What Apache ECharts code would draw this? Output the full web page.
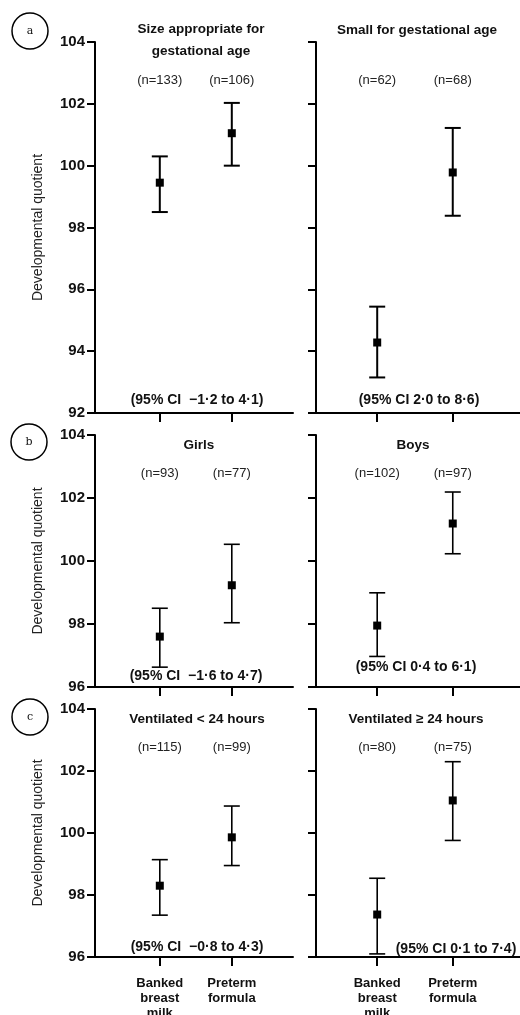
<!DOCTYPE html>
<html>
<head>
<meta charset="utf-8">
<script src="https://cdn.jsdelivr.net/npm/echarts@6/dist/echarts.min.js"></script>
<style>
html,body{margin:0;padding:0;background:#fff;}
#chart{width:520px;height:1015px;}
</style>
</head>
<body>
<div id="chart"></div>
<script>
// ---- data ----
const categories = ['Banked\nbreast\nmilk', 'Preterm\nformula'];
const panelLetters = ['a', 'b', 'c'];
const titles = ['Size appropriate for\ngestational age', 'Small for gestational age', 'Girls', 'Boys', 'Ventilated < 24 hours', 'Ventilated \u2265 24 hours'];
const nLabels = [['(n=133)', '(n=106)'], ['(n=62)', '(n=68)'], ['(n=93)', '(n=77)'], ['(n=102)', '(n=97)'], ['(n=115)', '(n=99)'], ['(n=80)', '(n=75)']];
const ciLabels = ['(95% CI  \u22121\u00b72 to 4\u00b71)', '(95% CI 2\u00b70 to 8\u00b76)', '(95% CI  \u22121\u00b76 to 4\u00b77)', '(95% CI 0\u00b74 to 6\u00b71)', '(95% CI  \u22120\u00b78 to 4\u00b73)', '(95% CI 0\u00b71 to 7\u00b74)'];
const means = [[99.45, 101.05], [94.28, 99.78], [97.6, 99.23], [97.95, 101.19], [98.3, 99.86], [97.37, 101.05]];
const lower = [[98.5, 100.0], [93.15, 98.38], [96.63, 98.04], [96.97, 100.23], [97.35, 98.95], [96.1, 99.76]];
const upper = [[100.3, 102.03], [95.44, 101.22], [98.5, 100.53], [98.99, 102.19], [99.14, 100.87], [98.54, 102.3]];
const yMins = [92, 96, 96];
const yMax = 104;
const yTickStep = 2;

// ---- layout ----
const FONT = '"Liberation Sans", Arial, Helvetica, sans-serif';
const gridTops = [42, 435, 709];
const gridHeights = [371, 252, 248];
const gridLefts = [95, 316];
const gridWidths = [198, 204];
const xMins = [-0.9, -0.81];
const xMaxs = [1.85, 1.89];
const titlePos = [[201, 29], [417, 30], [199, 445], [413, 445], [197, 719], [416, 719]];
const ciPos = [[197, 400], [419, 400], [196, 676], [416, 667], [197, 947], [456, 949]];
const circlePos = [[30, 31], [29, 442], [30, 717]];

const grids = [], xAxes = [], yAxes = [], series = [];
for (let i = 0; i < 6; i++) {
  const row = Math.floor(i / 2), col = i % 2;
  grids.push({left: gridLefts[col], top: gridTops[row], width: gridWidths[col], height: gridHeights[row],
    containLabel: false, outerBoundsMode: 'none'});
  xAxes.push({
    type: 'value', gridIndex: i, min: xMins[col], max: xMaxs[col],
    splitLine: {show: false},
    axisLine: {show: true, onZero: false, lineStyle: {color: '#000', width: 2}},
    axisTick: {show: true, customValues: [0, 1], length: 9, inside: false, lineStyle: {color: '#000', width: 2}},
    axisLabel: {show: row === 2, customValues: [0, 1], margin: 19, formatter: v => categories[Math.round(v)],
      fontFamily: FONT, fontWeight: 'bold', fontSize: 13, lineHeight: 15, color: '#111', verticalAlign: 'top'}
  });
  yAxes.push({
    type: 'value', gridIndex: i, min: yMins[row], max: yMax, interval: yTickStep,
    splitLine: {show: false},
    axisLine: {show: true, onZero: false, lineStyle: {color: '#000', width: 2}},
    axisTick: {show: true, length: 8, lineStyle: {color: '#000', width: 2}},
    axisLabel: {show: col === 0, margin: 10, fontFamily: FONT, fontWeight: 'bold', fontSize: 15, color: '#111'},
    name: col === 0 ? 'Developmental quotient' : '',
    nameLocation: 'middle', nameGap: 50,
    nameTextStyle: {fontFamily: FONT, fontSize: 14, color: '#222'}
  });
  const data = [0, 1].map(k => [k, means[i][k], lower[i][k], upper[i][k]]);
  const lw = row === 0 ? 2 : 1.6;
  series.push({
    type: 'custom', xAxisIndex: i, yAxisIndex: i, data: data,
    encode: {x: 0, y: 1},
    renderItem: (function (panel, lw) {
      return function (params, api) {
        const x = api.value(0);
        const pm = api.coord([x, api.value(1)]);
        const plo = api.coord([x, api.value(2)]);
        const phi = api.coord([x, api.value(3)]);
        const cap = 8, sq = 8;
        const st = {stroke: '#000', lineWidth: lw};
        return {type: 'group', children: [
          {type: 'line', shape: {x1: pm[0], y1: phi[1], x2: pm[0], y2: plo[1]}, style: st},
          {type: 'line', shape: {x1: pm[0] - cap, y1: phi[1], x2: pm[0] + cap, y2: phi[1]}, style: st},
          {type: 'line', shape: {x1: pm[0] - cap, y1: plo[1], x2: pm[0] + cap, y2: plo[1]}, style: st},
          {type: 'rect', shape: {x: pm[0] - sq / 2, y: pm[1] - sq / 2, width: sq, height: sq}, style: {fill: '#000'}},
          {type: 'text', x: pm[0], y: params.coordSys.y + 38, style: {text: nLabels[panel][x], fontFamily: FONT, fontSize: 13, fill: '#222', align: 'center', verticalAlign: 'middle'}}
        ]};
      };
    })(i, lw)
  });
}

const graphics = [];
for (let i = 0; i < 6; i++) {
  graphics.push({type: 'text', x: titlePos[i][0], y: titlePos[i][1] - 11,
    style: {text: titles[i], fontFamily: FONT, fontWeight: 'bold', fontSize: 13.5, lineHeight: 22, fill: '#111', align: 'center', verticalAlign: 'top'}});
  graphics.push({type: 'text', x: ciPos[i][0], y: ciPos[i][1],
    style: {text: ciLabels[i], fontFamily: FONT, fontWeight: 'bold', fontSize: 14, fill: '#111', align: 'center', verticalAlign: 'middle'}});
}
for (let r = 0; r < 3; r++) {
  graphics.push({type: 'circle', shape: {cx: circlePos[r][0], cy: circlePos[r][1], r: 18}, style: {fill: '#fff', stroke: '#000', lineWidth: 1.5}});
  graphics.push({type: 'text', x: circlePos[r][0], y: circlePos[r][1],
    style: {text: panelLetters[r], fontFamily: '"DejaVu Serif", serif', fontSize: 11, fill: '#111', align: 'center', verticalAlign: 'middle'}});
}

const chart = echarts.init(document.getElementById('chart'), null, {renderer: 'canvas'});
chart.setOption({
  backgroundColor: '#fff',
  animation: false,
  grid: grids, xAxis: xAxes, yAxis: yAxes, series: series,
  graphic: graphics
});
</script>
</body>
</html>
